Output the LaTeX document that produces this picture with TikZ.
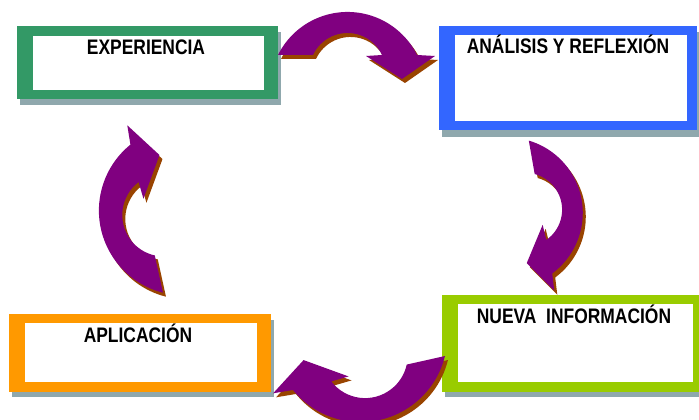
\documentclass[tikz,border=0pt]{standalone}
\usepackage{fontspec}
\setmainfont{Liberation Sans}
\newfontfamily\boxfont[FakeStretch=0.83]{Liberation Sans}
\definecolor{arrowpurple}{RGB}{128,0,128}
\definecolor{arrowbrown}{RGB}{153,68,0}
\definecolor{boxshadow}{RGB}{143,168,173}
\definecolor{cgreen}{RGB}{51,153,102}
\definecolor{cblue}{RGB}{51,102,255}
\definecolor{clime}{RGB}{153,204,0}
\definecolor{corange}{RGB}{255,153,0}
\tikzset{
  curvarrow/.pic={
    \path[pic actions] (-69.5pt,0pt) arc[start angle=153.5, end angle=26.5, radius=77.7pt]
      -- (87.5pt,-1pt) -- (54.5pt,-24pt) -- (18.5pt,-1pt) -- (34.5pt,0pt)
      arc[start angle=24.9, end angle=155.1, radius=38.05pt] -- cycle;
  },
  boxlabel/.style={font=\boxfont\bfseries\fontsize{21}{25}\selectfont, anchor=base, inner sep=0pt, text=black}
}
\begin{document}
\begin{tikzpicture}[x=1pt,y=1pt]
\useasboundingbox (0,0) rectangle (699,420);
\fill[white] (0,0) rectangle (699,420);
% box 1 EXPERIENCIA
\fill[boxshadow] (20,388) rectangle (281,315);
\fill[cgreen] (17,394) rectangle (278,321);
\fill[white] (33,384) rectangle (264,330);
\node[boxlabel] (exp) at (146,365) {EXPERIENCIA};
% box 2 ANALISIS
\fill[boxshadow] (442,388) rectangle (699,283);
\fill[cblue] (439,394) rectangle (697,290);
\fill[white] (455,385) rectangle (687,299);
\node[boxlabel] (ana) at (568,366) {ANÁLISIS Y REFLEXIÓN};
% box 3 NUEVA INFORMACION
\fill[boxshadow] (445,119) rectangle (699,23);
\fill[clime] (442,125) rectangle (699,28);
\fill[white] (458,116) rectangle (693,38);
\node[boxlabel] (nue) at (574,96) {NUEVA\ \ INFORMACIÓN};
% box 4 APLICACION
\fill[boxshadow] (12,100) rectangle (274,23);
\fill[corange] (9,106) rectangle (271,28);
\fill[white] (25,97) rectangle (257,38);
\node[boxlabel] (apl) at (138,77) {APLICACIÓN};
% arrows: shadows
\pic[fill=arrowbrown] at (350.5,361) {curvarrow};
\pic[fill=arrowbrown, rotate=-80, scale=0.97] at (543.5,209) {curvarrow};
\pic[fill=arrowbrown, rotate=-167.4, scale=1.12] at (372,43) {curvarrow};
\pic[fill=arrowbrown, rotate=102.4, scale=1.09] at (149.7,197.3) {curvarrow};
% arrows
\pic[fill=arrowpurple] at (347.5,365) {curvarrow};
\pic[fill=arrowpurple, rotate=-80, scale=0.97] at (540.5,213) {curvarrow};
\pic[fill=arrowpurple, rotate=-167.4, scale=1.12] at (369,47) {curvarrow};
\pic[fill=arrowpurple, rotate=102.4, scale=1.09] at (146.7,201.3) {curvarrow};
\end{tikzpicture}
\end{document}
